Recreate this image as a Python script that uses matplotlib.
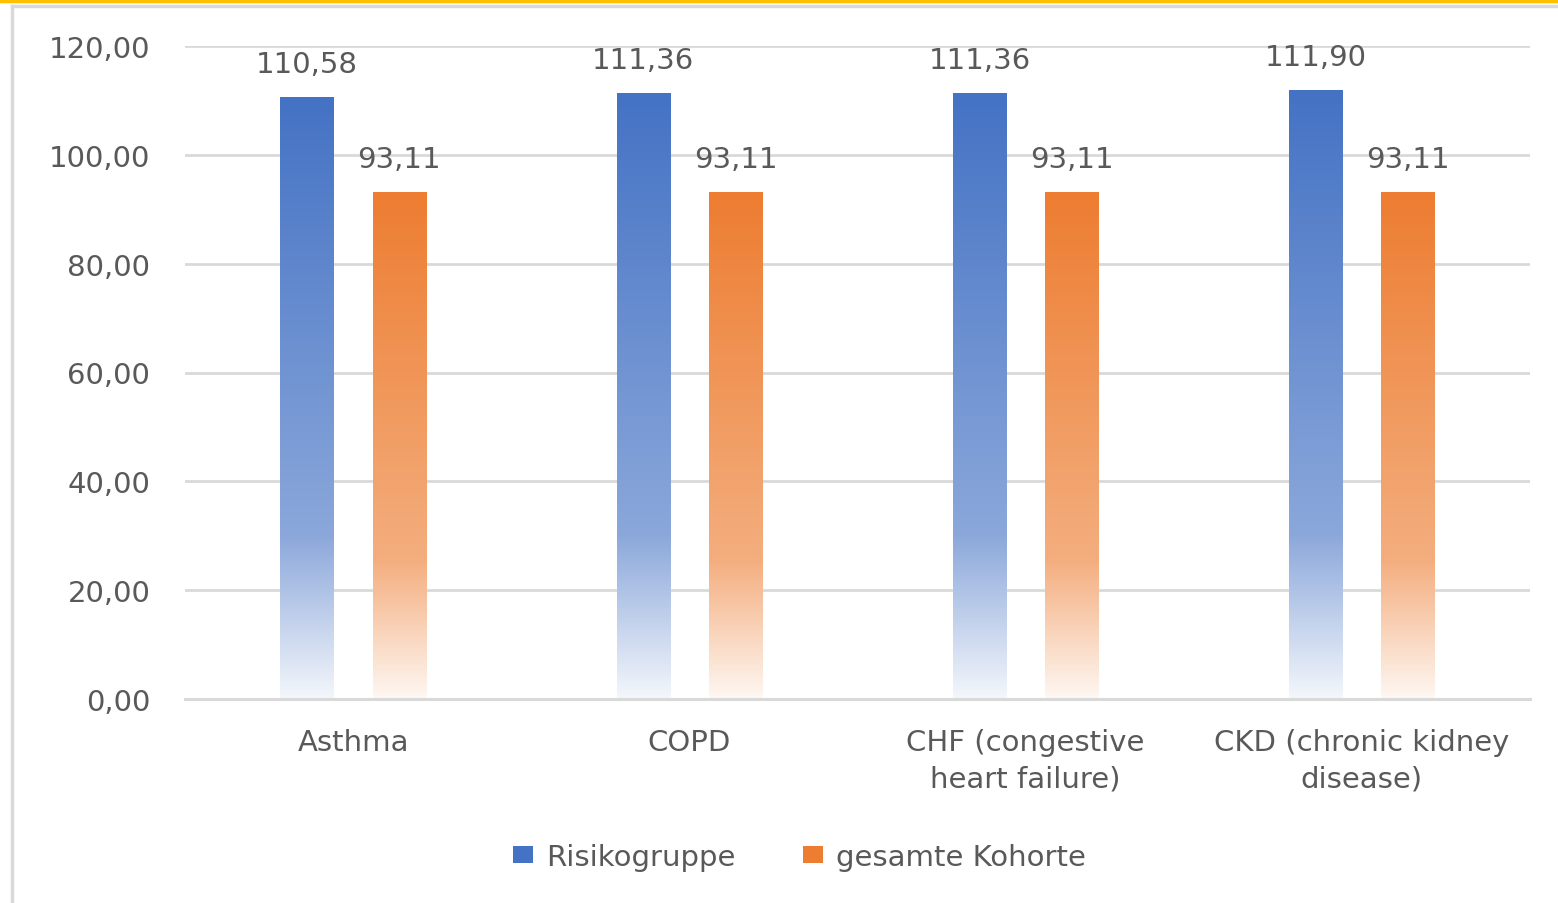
import numpy as np
import matplotlib.pyplot as plt
from matplotlib.colors import LinearSegmentedColormap, to_rgb
from matplotlib.lines import Line2D
from matplotlib.patches import Patch

categories = ["Asthma", "COPD", "CHF (congestive\nheart failure)", "CKD (chronic kidney\ndisease)"]
risikogruppe = [110.58, 111.36, 111.36, 111.90]
gesamte_kohorte = [93.11, 93.11, 93.11, 93.11]
series_names = ["Risikogruppe", "gesamte Kohorte"]
series_colors = ["#4472C4", "#ED7D31"]
yticks = [0, 20, 40, 60, 80, 100, 120]

text_color = "#595959"
grid_color = "#D9D9D9"
plt.rcParams['font.family'] = ['DejaVu Sans']
fs = 21


def fmt(v):
    return f"{v:.2f}".replace(".", ",")


def gradient_cmap(color):
    # light at the bottom, fading in quickly, then full colour at the top
    c = np.array(to_rgb(color))
    w = np.ones(3)
    stops = [(0.0, 0.06), (0.27, 0.62), (1.0, 1.0)]
    return LinearSegmentedColormap.from_list(
        "g", [(p, tuple(w * (1 - a) + c * a)) for p, a in stops])


fig = plt.figure(figsize=(15.58, 9.04), dpi=100)
ax = fig.add_axes([185 / 1558, 1 - 700 / 904, 1345 / 1558, 653 / 904])

x = np.arange(len(categories))
width = 0.158
offset = 0.137
grad = np.linspace(0, 1, 256).reshape(-1, 1)

for vals, sign, color in [(risikogruppe, -1, series_colors[0]), (gesamte_kohorte, 1, series_colors[1])]:
    bars = ax.bar(x + sign * offset, vals, width, color="none", zorder=3)
    cmap = gradient_cmap(color)
    for b, v in zip(bars, vals):
        x0 = b.get_x()
        ax.imshow(grad, cmap=cmap, origin="lower", aspect="auto",
                  extent=(x0, x0 + width, 0, v), zorder=3, interpolation="bilinear")
        ax.annotate(fmt(v), (x0 + width / 2, v), xytext=(0, 24), textcoords="offset points",
                    ha="center", va="center", fontsize=fs, color=text_color, zorder=4)

ax.set_xlim(-0.5, len(categories) - 0.5)
ax.set_ylim(0, 120)
ax.set_yticks(yticks)
ax.set_yticklabels([fmt(t) for t in yticks])
ax.set_xticks(x)
ax.set_xticklabels(categories, linespacing=1.4)
ax.tick_params(axis="y", length=0, pad=25, labelsize=fs, labelcolor=text_color)
ax.tick_params(axis="x", length=0, pad=21, labelsize=fs, labelcolor=text_color)
ax.grid(axis="y", color=grid_color, linewidth=2.0, zorder=0)
for s in ["top", "right", "left"]:
    ax.spines[s].set_visible(False)
ax.spines["bottom"].set_color(grid_color)
ax.spines["bottom"].set_linewidth(2.2)
ax.spines["bottom"].set_zorder(5)

handles = [Patch(facecolor=c, edgecolor="none") for c in series_colors]
fig.legend(handles, series_names, loc="center", bbox_to_anchor=(0.513, 0.051), ncol=2,
           frameon=False, fontsize=fs, labelcolor=text_color, handlelength=0.7,
           handleheight=0.55, handletextpad=0.45, columnspacing=2.3)

# frame lines around the screenshot
fig.add_artist(Line2D([0, 1], [1 - 1.5 / 904, 1 - 1.5 / 904], color="#FFC000", linewidth=2.5))
fig.add_artist(Line2D([12 / 1558, 1], [1 - 7 / 904, 1 - 7 / 904], color=grid_color, linewidth=2.5))
fig.add_artist(Line2D([12 / 1558, 12 / 1558], [0, 1 - 7 / 904], color=grid_color, linewidth=2.5))

fig.savefig("out.png", dpi=100)
